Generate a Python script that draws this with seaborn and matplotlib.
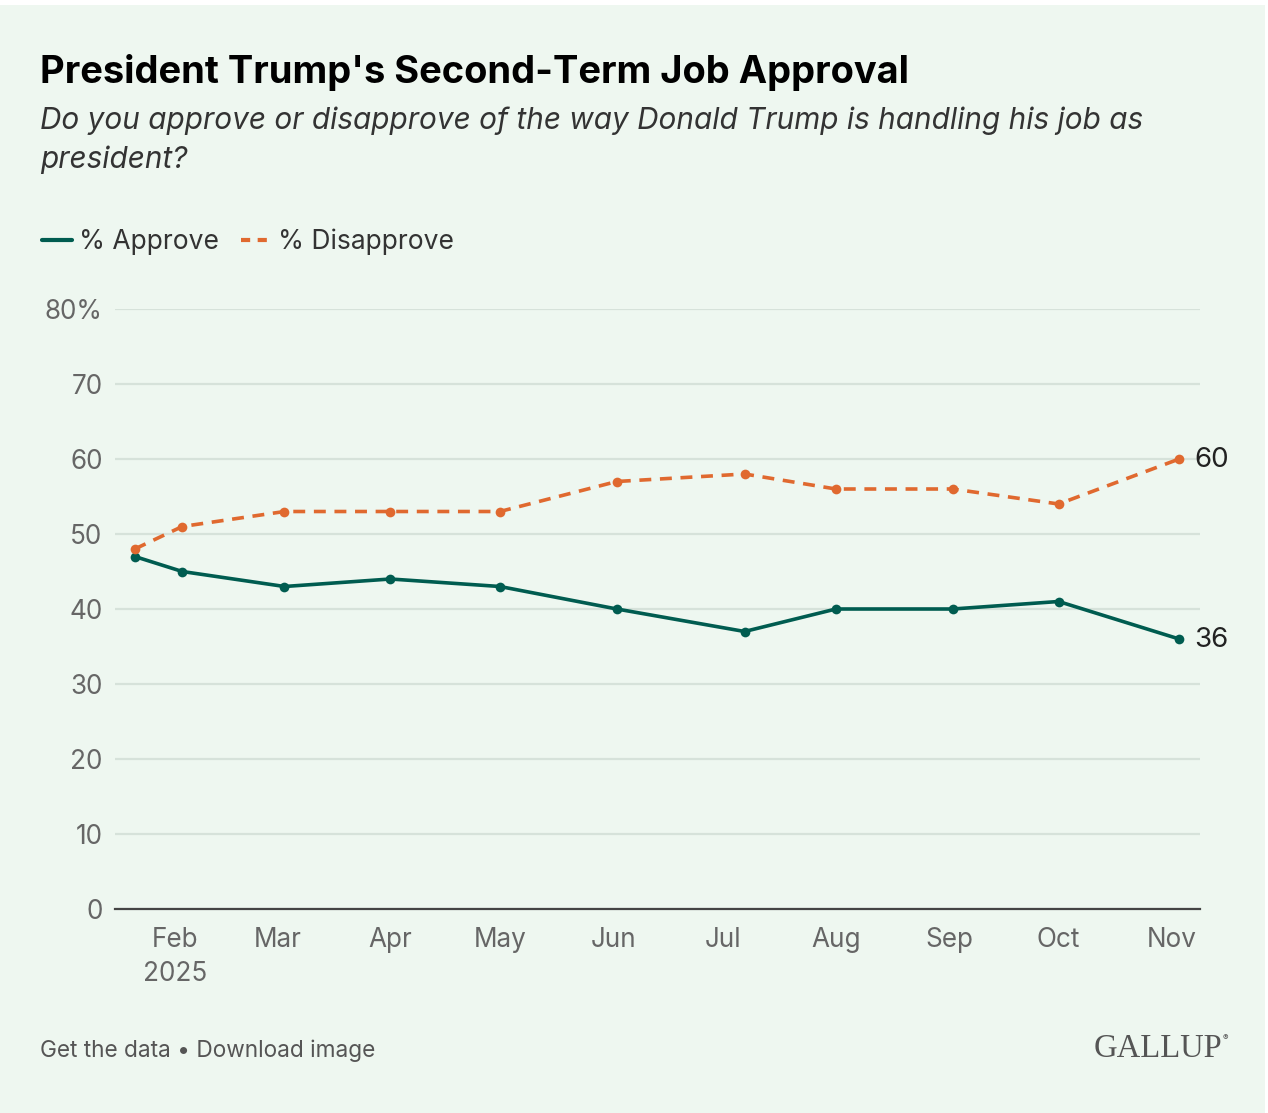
import matplotlib
matplotlib.use("Agg")
import matplotlib.pyplot as plt
from matplotlib.lines import Line2D
from matplotlib.patches import Rectangle
import seaborn as sns
import pandas as pd

# ---- data ----
dates = ["2025-01-21", "2025-02-03", "2025-03-03", "2025-04-01", "2025-05-01",
         "2025-06-02", "2025-07-07", "2025-08-01", "2025-09-02", "2025-10-01",
         "2025-11-03"]
approve = [47, 45, 43, 44, 43, 40, 37, 40, 40, 41, 36]
disapprove = [48, 51, 53, 53, 53, 57, 58, 56, 56, 54, 60]
tick_dates = ["2025-02-01", "2025-03-01", "2025-04-01", "2025-05-01", "2025-06-01",
              "2025-07-01", "2025-08-01", "2025-09-01", "2025-10-01", "2025-11-01"]
tick_labels = ["Feb\n2025", "Mar", "Apr", "May", "Jun", "Jul", "Aug", "Sep", "Oct", "Nov"]
y_ticks = [0, 10, 20, 30, 40, 50, 60, 70, 80]
y_labels = ["0", "10", "20", "30", "40", "50", "60", "70", "80%"]
series_names = ["% Approve", "% Disapprove"]

BG = "#EEF7F0"
GREEN = "#005C50"
ORANGE = "#E0692F"
FONT = "Inter"

df = pd.DataFrame({
    "date": pd.to_datetime(dates * 2),
    "value": approve + disapprove,
    "series": [series_names[0]] * len(dates) + [series_names[1]] * len(dates),
})

sns.set_theme(style="white")
plt.rcParams["font.family"] = [FONT, "DejaVu Sans"]

W, H = 1268, 1113
fig = plt.figure(figsize=(W / 100, H / 100), dpi=100, facecolor=BG)
# thin white strips at top and right edge
fig.patches.append(Rectangle((0, 1 - 5 / H), 1, 5 / H, transform=fig.transFigure,
                             facecolor="white", edgecolor="none", zorder=0))
fig.patches.append(Rectangle((1 - 3 / W, 0), 3 / W, 1, transform=fig.transFigure,
                             facecolor="white", edgecolor="none", zorder=0))

ax = fig.add_axes([115 / W, 204 / H, (1200 - 115) / W, 600 / H])
ax.set_facecolor(BG)

palette = {series_names[0]: GREEN, series_names[1]: ORANGE}
dashes = {series_names[0]: "", series_names[1]: (3.3, 2.4)}
sns.lineplot(data=df, x="date", y="value", hue="series", style="series",
             palette=palette, dashes=dashes,
             markers={series_names[0]: "o", series_names[1]: "o"},
             markersize=7, markeredgewidth=0, linewidth=2.6, legend=False, ax=ax,
             clip_on=False, zorder=3)

ax.set_xlim(pd.Timestamp("2025-01-15 14:00"), pd.Timestamp("2025-11-08 17:00"))
ax.set_ylim(0, 80)
ax.set_yticks(y_ticks)
ax.set_yticklabels(y_labels)
ax.set_xticks(pd.to_datetime(tick_dates))
ax.set_xticklabels(tick_labels, linespacing=1.4)
ax.set_xlabel("")
ax.set_ylabel("")
ax.grid(axis="y", color="#D6E2DA", linewidth=1.6, zorder=0)
ax.grid(axis="x", visible=False)
for s in ["top", "right", "left"]:
    ax.spines[s].set_visible(False)
ax.spines["bottom"].set_color("#444444")
ax.spines["bottom"].set_linewidth(1.6)
ax.spines["bottom"].set_zorder(4)
ax.tick_params(axis="both", length=0, labelsize=18.8, labelcolor="#666666")
ax.tick_params(axis="y", pad=9)
ax.tick_params(axis="x", pad=13)

# end labels
last = pd.to_datetime(dates[-1])
for val in (disapprove[-1], approve[-1]):
    ax.annotate(str(val), (last, val), xytext=(11, -1),
                textcoords="offset points", va="center", ha="left", fontsize=20,
                color="#222222", annotation_clip=False)

# title & subtitle
fig.text(40 / W, 1 - 83 / H, "President Trump's Second-Term Job Approval",
         fontsize=27.4, fontweight="bold", color="#000000", va="baseline", ha="left")
fig.text(40 / W, 1 - 129 / H,
         "Do you approve or disapprove of the way Donald Trump is handling his job as",
         fontsize=21.4, style="italic", color="#333333", va="baseline", ha="left")
fig.text(40 / W, 1 - 168 / H, "president?",
         fontsize=21.4, style="italic", color="#333333", va="baseline", ha="left")

# legend
handles = [Line2D([0], [0], color=GREEN, lw=3),
           Line2D([0], [0], color=ORANGE, lw=3, dashes=(2.2, 1.8))]
leg = fig.legend(handles, series_names, loc="center left",
                 bbox_to_anchor=(18 / W, 1 - 242 / H), frameon=False,
                 ncol=2, fontsize=19, handlelength=1.15, handletextpad=0.25,
                 columnspacing=0.85, labelcolor="#333333")

# footer
fig.text(40 / W, 1 - 1057 / H, "Get the data \u2022 Download image",
         fontsize=16.3, color="#555555", va="baseline", ha="left")
fig.text(1222 / W, 1 - 1057 / H, "GALLUP", family=["Liberation Serif"],
         fontsize=23.5, color="#555555", va="baseline", ha="right")
fig.text(1223 / W, 1 - 1040 / H, "\u00ae", fontsize=6, color="#555555",
         va="baseline", ha="left")

fig.savefig("out.png", dpi=100, facecolor=BG)
